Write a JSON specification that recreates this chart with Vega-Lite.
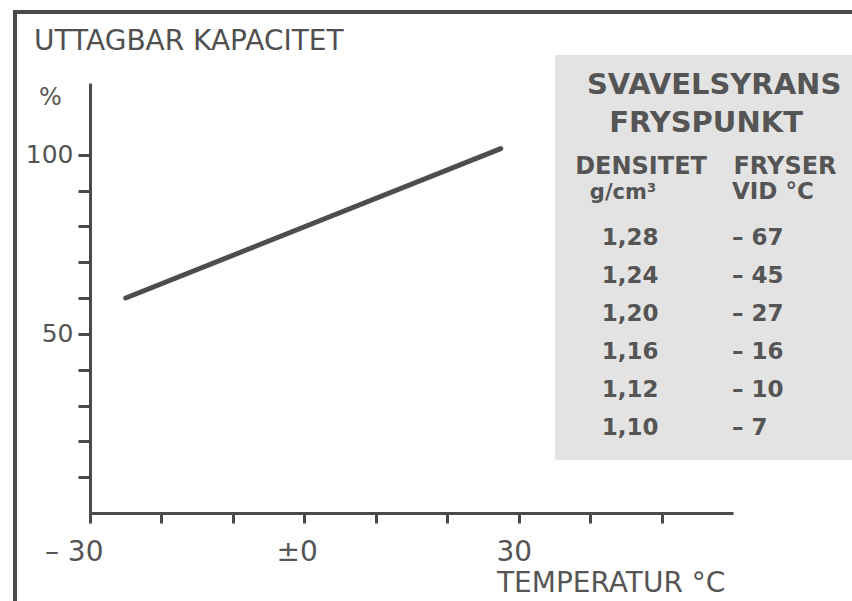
{
  "$schema": "https://vega.github.io/schema/vega-lite/v6.json",
  "width": 643,
  "height": 430,
  "autosize": {"type": "none"},
  "padding": {"left": 90, "top": 83, "right": 119, "bottom": 88},
  "background": "#ffffff",
  "config": {"view": {"stroke": null}, "font": "DejaVu Sans"},
  "datasets": {
    "kapacitet": [
      {"temperatur": -25, "kapacitet": 60},
      {"temperatur": 27.5, "kapacitet": 101.7}
    ],
    "fryspunkt": [
      {"rad": 1, "densitet": "1,28", "fryser": "– 67"},
      {"rad": 2, "densitet": "1,24", "fryser": "– 45"},
      {"rad": 3, "densitet": "1,20", "fryser": "– 27"},
      {"rad": 4, "densitet": "1,16", "fryser": "– 16"},
      {"rad": 5, "densitet": "1,12", "fryser": "– 10"},
      {"rad": 6, "densitet": "1,10", "fryser": "– 7"}
    ]
  },
  "layer": [
    {
      "layer": [
        {
          "data": {"values": [{}]},
          "mark": {"type": "rect", "color": "#e3e3e3"},
          "encoding": {
            "x": {"datum": 35.09}, "x2": {"datum": 77},
            "y": {"datum": 127.8}, "y2": {"datum": 14.8}
          }
        },
        {
          "data": {"name": "kapacitet"},
          "mark": {"type": "line", "color": "#4d4d4d", "strokeWidth": 5, "strokeCap": "round"},
          "encoding": {
            "x": {
              "field": "temperatur", "type": "quantitative",
              "scale": {"domain": [-30, 60], "nice": false, "zero": false},
              "axis": {
                "title": null,
                "values": [-30, -20, -10, 0, 10, 20, 30, 40, 50],
                "labelExpr": "datum.value == -30 ? '– 30' : datum.value == 0 ? '±0' : datum.value == 30 ? '30' : ''",
                "domainColor": "#4a4a4a", "domainWidth": 3,
                "tickColor": "#4a4a4a", "tickWidth": 3, "tickSize": 10,
                "labelFont": "DejaVu Sans", "labelFontSize": 28, "labelColor": "#555555",
                "labelAlign": "right", "labelOffset": 13, "labelPadding": 15,
                "grid": false, "labelOverlap": false
              }
            },
            "y": {
              "field": "kapacitet", "type": "quantitative",
              "scale": {"domain": [0, 120], "nice": false, "zero": true},
              "axis": {
                "title": null,
                "values": [10, 20, 30, 40, 50, 60, 70, 80, 90, 100],
                "labelExpr": "datum.value == 100 || datum.value == 50 ? datum.value : ''",
                "domainColor": "#4a4a4a", "domainWidth": 3,
                "tickColor": "#4a4a4a", "tickWidth": 3, "tickSize": 12,
                "labelFont": "DejaVu Sans", "labelFontSize": 25, "labelColor": "#555555",
                "labelPadding": 5, "grid": false, "labelOverlap": false
              }
            }
          }
        },
        {
          "data": {"values": [{}]},
          "mark": {"type": "rule", "color": "#4a4a4a", "strokeWidth": 4},
          "encoding": {"x": {"datum": -40.78}, "x2": {"datum": 77}, "y": {"datum": 139.8}}
        },
        {
          "data": {"values": [{}]},
          "mark": {"type": "rule", "color": "#4a4a4a", "strokeWidth": 4},
          "encoding": {"x": {"datum": -40.5}, "y": {"datum": 140.4}, "y2": {"datum": -25}}
        },
        {
          "data": {"values": [{}]},
          "mark": {"type": "text", "align": "left", "baseline": "alphabetic", "fontSize": 28, "color": "#505050", "text": "UTTAGBAR KAPACITET"},
          "encoding": {"x": {"datum": -37.84}, "y": {"datum": 129.2}}
        },
        {
          "data": {"values": [{}]},
          "mark": {"type": "text", "align": "left", "baseline": "alphabetic", "fontSize": 24, "color": "#555555", "text": "%"},
          "encoding": {"x": {"datum": -37.14}, "y": {"datum": 113.9}}
        },
        {
          "data": {"values": [{}]},
          "mark": {"type": "text", "align": "left", "baseline": "alphabetic", "fontSize": 28, "color": "#555555", "text": "TEMPERATUR °C"},
          "encoding": {"x": {"datum": 26.97}, "y": {"datum": -22.05}}
        },
        {
          "data": {"values": [{}]},
          "mark": {"type": "text", "align": "center", "baseline": "alphabetic", "fontSize": 29, "fontWeight": "bold", "color": "#555555", "text": "SVAVELSYRANS"},
          "encoding": {"x": {"datum": 57.35}, "y": {"datum": 116.8}}
        },
        {
          "data": {"values": [{}]},
          "mark": {"type": "text", "align": "center", "baseline": "alphabetic", "fontSize": 29, "fontWeight": "bold", "color": "#555555", "text": "FRYSPUNKT"},
          "encoding": {"x": {"datum": 56.23}, "y": {"datum": 106.2}}
        },
        {
          "data": {"values": [{}]},
          "mark": {"type": "text", "align": "center", "baseline": "alphabetic", "fontSize": 24, "fontWeight": "bold", "color": "#555555", "text": "DENSITET"},
          "encoding": {"x": {"datum": 47.13}, "y": {"datum": 94.7}}
        },
        {
          "data": {"values": [{}]},
          "mark": {"type": "text", "align": "center", "baseline": "alphabetic", "fontSize": 24, "fontWeight": "bold", "color": "#555555", "text": "FRYSER"},
          "encoding": {"x": {"datum": 67.28}, "y": {"datum": 94.7}}
        },
        {
          "data": {"values": [{}]},
          "mark": {"type": "text", "align": "center", "baseline": "alphabetic", "fontSize": 21, "fontWeight": "bold", "color": "#555555", "text": "g/cm³"},
          "encoding": {"x": {"datum": 44.6}, "y": {"datum": 87.6}}
        },
        {
          "data": {"values": [{}]},
          "mark": {"type": "text", "align": "left", "baseline": "alphabetic", "fontSize": 23, "fontWeight": "bold", "color": "#555555", "text": "VID °C"},
          "encoding": {"x": {"datum": 59.86}, "y": {"datum": 87.6}}
        }
      ]
    },
    {
      "data": {"name": "fryspunkt"},
      "encoding": {
        "y": {
          "field": "rad", "type": "quantitative",
          "scale": {"domain": [-3.079, 8.237], "reverse": true, "nice": false, "zero": false},
          "axis": null
        }
      },
      "layer": [
        {
          "mark": {"type": "text", "align": "center", "baseline": "middle", "fontSize": 23, "fontWeight": "bold", "color": "#555555"},
          "encoding": {"x": {"datum": 45.59}, "text": {"field": "densitet"}}
        },
        {
          "mark": {"type": "text", "align": "left", "baseline": "middle", "fontSize": 23, "fontWeight": "bold", "color": "#555555"},
          "encoding": {"x": {"datum": 59.86}, "text": {"field": "fryser"}}
        }
      ]
    }
  ],
  "resolve": {"scale": {"y": "independent"}}
}
